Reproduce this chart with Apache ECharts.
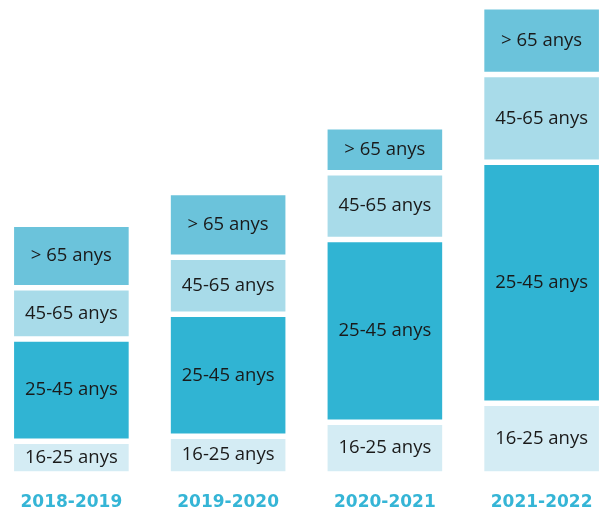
<!DOCTYPE html>
<html>
<head>
<meta charset="utf-8">
<script src="https://cdn.jsdelivr.net/npm/echarts@6/dist/echarts.min.js"></script>
<style>
html,body{margin:0;padding:0;background:#fff;overflow:hidden;}
#main{position:absolute;left:-7px;top:0;width:627px;height:510px;}
</style>
</head>
<body>
<div id="main"></div>
<script>
var categories = ['2018-2019', '2019-2020', '2020-2021', '2021-2022'];
var seriesNames = ['16-25 anys', '25-45 anys', '45-65 anys', '> 65 anys'];
var age16_25 = [32.7, 37.7, 51.7, 70.7];
var age25_45 = [102.3, 122.0, 182.8, 241.0];
var age45_65 = [51.3, 57.0, 66.8, 87.8];
var age65plus = [63.4, 64.7, 46.0, 67.6];
var seriesColors = ['#D4ECF4', '#30B4D3', '#A8DBE9', '#6BC3DB'];

var values = [age16_25, age25_45, age45_65, age65plus];

var chart = echarts.init(document.getElementById('main'), null, {renderer: 'canvas'});
var series = values.map(function (arr, i) {
  return {
    name: seriesNames[i],
    type: 'bar',
    stack: 'total',
    barWidth: 120,
    data: arr,
    itemStyle: {color: seriesColors[i], borderColor: '#ffffff', borderWidth: 2.7},
    label: {
      show: true,
      position: 'inside',
      formatter: seriesNames[i],
      color: '#1a1a1a',
      fontFamily: 'Open Sans',
      fontSize: 18.5
    },
    emphasis: {disabled: true}
  };
});

chart.setOption({
  animation: false,
  backgroundColor: '#ffffff',
  grid: {left: 0, right: 0, top: 0, bottom: 36, containLabel: false, outerBoundsMode: 'none'},
  xAxis: {
    type: 'category',
    data: categories,
    axisLine: {show: false},
    axisTick: {show: false},
    axisLabel: {
      color: '#35B5D6',
      fontWeight: 'bold',
      fontFamily: 'DejaVu Sans',
      fontSize: 17,
      margin: 20
    }
  },
  yAxis: {
    type: 'value',
    min: 0,
    max: 474,
    show: false,
    splitLine: {show: false}
  },
  series: series
});
</script>
</body>
</html>
